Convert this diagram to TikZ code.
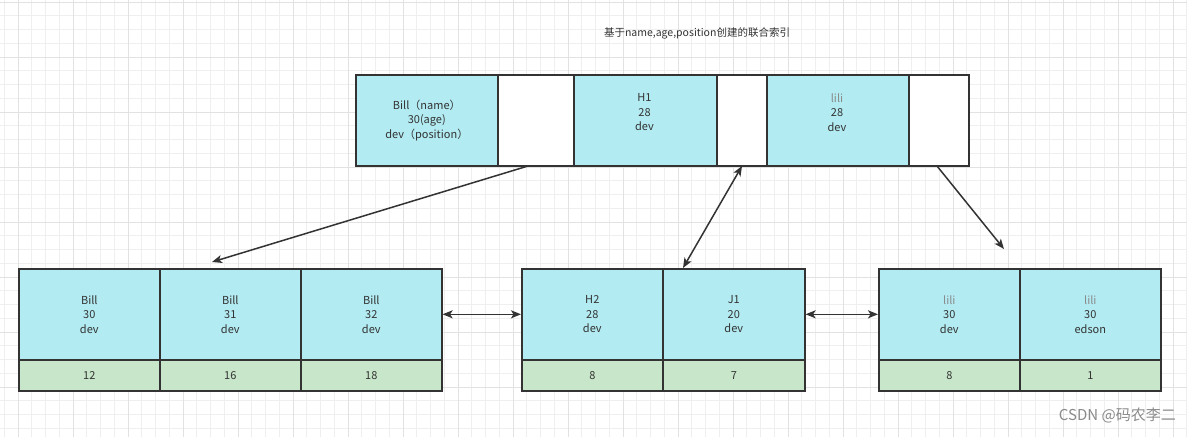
\documentclass[tikz,border=0pt]{standalone}
\usepackage{fontspec}
\setmainfont{Noto Sans CJK SC}
\usetikzlibrary{arrows.meta}
\definecolor{cyanfill}{HTML}{B2EBF2}
\definecolor{greenfill}{HTML}{C8E6C9}
\definecolor{edgec}{HTML}{333333}
\definecolor{txt}{HTML}{333333}
\definecolor{lilic}{HTML}{8A8A8A}
\definecolor{gridminor}{HTML}{EFEFEF}
\definecolor{gridmajor}{HTML}{E2E2E2}
\begin{document}
\begin{tikzpicture}[x=1pt,y=-1pt,
  cellbox/.style={draw=edgec, line width=1.6pt, anchor=north west, inner sep=0pt,
    font=\fontsize{11}{14.5}\selectfont, text=txt, align=center},
  cyancell/.style={cellbox, fill=cyanfill, minimum height=91pt},
  whitecell/.style={cellbox, fill=white, minimum height=91pt},
  greencell/.style={cellbox, fill=greenfill, minimum height=31pt},
  celltext/.style={font=\fontsize{11}{14.5}\selectfont, text=txt, align=center, inner sep=0pt},
  conn/.style={draw=edgec, line width=1.5pt},
  tip/.style={-{Stealth[length=10pt,width=8pt,inset=2.5pt]}},
  dtip/.style={{Stealth[length=10pt,width=8pt,inset=2.5pt]}-{Stealth[length=10pt,width=8pt,inset=2.5pt]}}
]
\useasboundingbox (0,0) rectangle (1187,437);
\fill[white] (0,0) rectangle (1187,437);
% grid
\foreach \i in {0,...,86} {
  \pgfmathsetmacro{\gx}{4.25+13.75*\i}
  \draw[gridminor, line width=1pt] (\gx,0) -- (\gx,437);
}
\foreach \j in {0,...,31} {
  \pgfmathsetmacro{\gy}{2+13.75*\j}
  \draw[gridminor, line width=1pt] (0,\gy) -- (1187,\gy);
}
\foreach \i in {0,...,21} {
  \pgfmathsetmacro{\gx}{18+55*\i}
  \draw[gridmajor, line width=1pt] (\gx,0) -- (\gx,437);
}
\foreach \j in {0,...,7} {
  \pgfmathsetmacro{\gy}{2+55*\j}
  \draw[gridmajor, line width=1pt] (0,\gy) -- (1187,\gy);
}

% title
\node[font=\fontsize{10.5}{13}\selectfont, text=txt, inner sep=0pt] (title) at (697,33) {基于name,age,position创建的联合索引};

% top node
\node[cyancell, minimum width=142pt] (tc1) at (355,74) {Bill（name）\\30(age)\\dev（position）};
\node[whitecell, minimum width=76pt] (tw1) at (497,74) {};
\node[cyancell, minimum width=143pt] (tc2) at (573,74) {};
\node[whitecell, minimum width=50pt] (tw2) at (716,74) {};
\node[cyancell, minimum width=142pt] (tc3) at (766,74) {};
\node[whitecell, minimum width=60pt] (tw3) at (908,74) {};
\node[celltext] (tc2t) at (644.5,112.5) {H1\\28\\dev};
\node[celltext] (tc3t) at (837,112.5) {\textcolor{lilic}{lili}\\28\\dev};

% bottom left
\node[cyancell, minimum width=141pt] (lc1) at (18,268) {Bill\\30\\dev};
\node[cyancell, minimum width=141pt] (lc2) at (159,268) {Bill\\31\\dev};
\node[cyancell, minimum width=141pt] (lc3) at (300,268) {Bill\\32\\dev};
\node[greencell, minimum width=141pt] (lg1) at (18,359) {12};
\node[greencell, minimum width=141pt] (lg2) at (159,359) {16};
\node[greencell, minimum width=141pt] (lg3) at (300,359) {18};

% bottom middle
\node[cyancell, minimum width=141pt] (mc1) at (521,268) {H2\\28\\dev};
\node[cyancell, minimum width=142pt] (mc2) at (662,268) {J1\\20\\dev};
\node[greencell, minimum width=141pt] (mg1) at (521,359) {8};
\node[greencell, minimum width=142pt] (mg2) at (662,359) {7};

% bottom right
\node[cyancell, minimum width=141pt] (rc1) at (878,268) {\textcolor{lilic}{lili}\\30\\dev};
\node[cyancell, minimum width=141pt] (rc2) at (1019,268) {\textcolor{lilic}{lili}\\30\\edson};
\node[greencell, minimum width=141pt] (rg1) at (878,359) {8};
\node[greencell, minimum width=141pt] (rg2) at (1019,359) {1};

% connectors
\coordinate (a1s) at (528,166);
\coordinate (a1e) at (212,262);
\coordinate (a2s) at (742,166);
\coordinate (a2e) at (683,268);
\coordinate (a3s) at (937,166);
\coordinate (a3e) at (1004,249);
\draw[conn, tip] (a1s) -- (a1e);
\draw[conn, dtip] (a2s) -- (a2e);
\draw[conn, tip] (a3s) -- (a3e);
\draw[conn, dtip] (lc3.east) -- (mc1.west);
\draw[conn, dtip] (mc2.east) -- (rc1.west);

% watermark
\node[font=\fontsize{15}{18}\selectfont, text=lilic, anchor=east, inner sep=0pt] (wm) at (1176,415) {CSDN @码农李二};
\end{tikzpicture}
\end{document}
